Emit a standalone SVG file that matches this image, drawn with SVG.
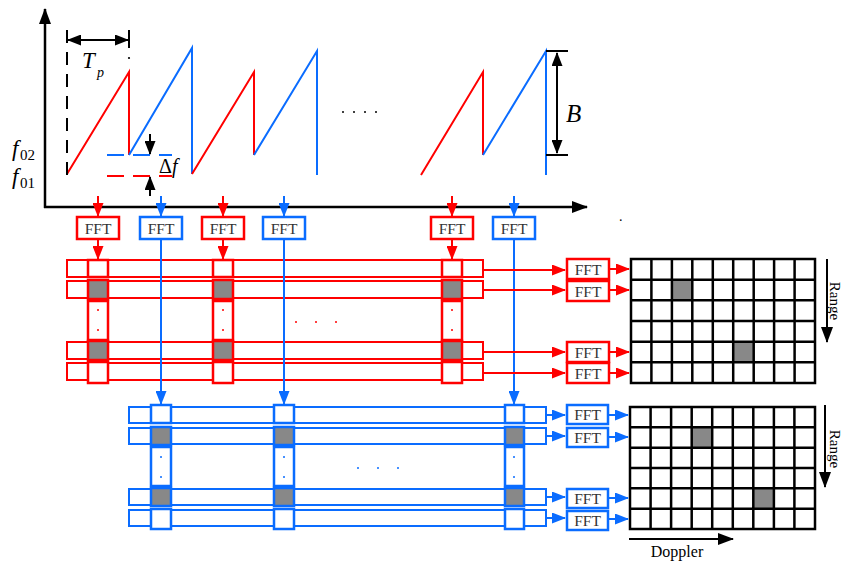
<svg xmlns="http://www.w3.org/2000/svg" width="843" height="562" viewBox="0 0 843 562">
<style>
.r{stroke:#ff0000;fill:none;stroke-width:2}
.b{stroke:#0a6cff;fill:none;stroke-width:2}
.k{stroke:#000;fill:none;stroke-width:2}
.rc{stroke:#ff0000;fill:#fff;stroke-width:2.5}
.bc{stroke:#0a6cff;fill:#fff;stroke-width:2.5}
.rg{stroke:#ff0000;fill:#888;stroke-width:2.5}
.bg{stroke:#0a6cff;fill:#888;stroke-width:2.5}
.fr{stroke:#ff0000;fill:#fff;stroke-width:2.5}
.fb{stroke:#0a6cff;fill:#fff;stroke-width:2.5}
.ft{font-family:"Liberation Serif",serif;font-size:15.5px;fill:#333;text-anchor:middle}
.it{font-family:"Liberation Serif",serif;font-style:italic;fill:#000}
.lb{font-family:"Liberation Serif",serif;fill:#000}
.dr{fill:#ff0000}
.db{fill:#0a6cff}
.grid{stroke:#000;stroke-width:2.5;fill:#fff}
</style>
<defs>
<marker id="ar" viewBox="0 0 14 11" refX="13" refY="5.5" markerWidth="14" markerHeight="11" markerUnits="userSpaceOnUse" orient="auto"><path d="M0,0 L14,5.5 L0,11 z" fill="#ff0000"/></marker>
<marker id="ab" viewBox="0 0 14 11" refX="13" refY="5.5" markerWidth="14" markerHeight="11" markerUnits="userSpaceOnUse" orient="auto"><path d="M0,0 L14,5.5 L0,11 z" fill="#0a6cff"/></marker>
<marker id="ak" viewBox="0 0 14 11" refX="13" refY="5.5" markerWidth="14" markerHeight="11" markerUnits="userSpaceOnUse" orient="auto-start-reverse"><path d="M0,0 L14,5.5 L0,11 z" fill="#000"/></marker>
<marker id="ax" viewBox="0 0 16 12" refX="15" refY="6" markerWidth="16" markerHeight="12" markerUnits="userSpaceOnUse" orient="auto"><path d="M0,0 L16,6 L0,12 z" fill="#000"/></marker>
</defs>

<g id="axes">
<line x1="45" y1="208" x2="45" y2="9" stroke="#000" stroke-width="2.5" marker-end="url(#ax)"/>
<line x1="44" y1="207" x2="587" y2="207" stroke="#000" stroke-width="2.5" marker-end="url(#ax)"/>
</g>

<g id="chirps">
<polyline class="r" points="67,174 129,72 129,155"/>
<polyline class="b" points="129,155 192,48 192,174"/>
<polyline class="r" points="192,174 254,72 254,155"/>
<polyline class="b" points="254,155 317,51 317,175"/>
<polyline class="r" points="421,175 483,72 483,155"/>
<polyline class="b" points="483,155 546,51 546,175"/>
<g fill="#000"><circle cx="343" cy="112" r="1"/><circle cx="354" cy="112" r="1"/><circle cx="365" cy="112" r="1"/><circle cx="376" cy="112" r="1"/></g>
</g>

<g id="tp">
<line x1="67" y1="30" x2="67" y2="175" stroke="#000" stroke-width="2" stroke-dasharray="13,9"/>
<line x1="129" y1="30" x2="129" y2="48" stroke="#000" stroke-width="2"/>
<circle cx="129" cy="58" r="1.1" fill="#000"/>
<line x1="68" y1="40" x2="128" y2="40" stroke="#000" stroke-width="2" marker-start="url(#ak)" marker-end="url(#ak)"/>
<text class="it" x="82" y="68" font-size="23">T</text>
<text class="it" x="97" y="77" font-size="14">p</text>
</g>

<g id="df">
<line x1="107" y1="155" x2="172" y2="155" class="b" stroke-dasharray="17,9"/>
<line x1="107" y1="176" x2="172" y2="176" class="r" stroke-dasharray="17,9"/>
<line x1="150" y1="134" x2="150" y2="154" stroke="#000" stroke-width="2" marker-end="url(#ak)"/>
<line x1="150" y1="196" x2="150" y2="177" stroke="#000" stroke-width="2" marker-end="url(#ak)"/>
<text class="lb" x="159" y="173" font-size="20">Δ<tspan font-style="italic">f</tspan></text>
</g>

<g id="flabels">
<text class="it" x="12" y="156" font-size="23">f</text>
<text class="lb" x="20" y="160" font-size="15">02</text>
<text class="it" x="12" y="184" font-size="23">f</text>
<text class="lb" x="20" y="188" font-size="15">01</text>
</g>

<g id="bw">
<line x1="546" y1="51" x2="568" y2="51" stroke="#000" stroke-width="2"/>
<line x1="546" y1="155" x2="568" y2="155" stroke="#000" stroke-width="2"/>
<line x1="557" y1="53" x2="557" y2="153" stroke="#000" stroke-width="2" marker-start="url(#ak)" marker-end="url(#ak)"/>
<text class="it" x="566" y="122" font-size="25">B</text>
</g>
<text class="lb" x="619" y="221" font-size="14">.</text>

<g id="fft-top">
<g id="fft-r1"><rect class="fr" x="77" y="217" width="42" height="22"/><text class="ft" x="98" y="233.5">FFT</text></g>
<g id="fft-b1"><rect class="fb" x="140" y="217" width="42" height="22"/><text class="ft" x="161" y="233.5">FFT</text></g>
<g id="fft-r2"><rect class="fr" x="202" y="217" width="42" height="22"/><text class="ft" x="223" y="233.5">FFT</text></g>
<g id="fft-b2"><rect class="fb" x="263" y="217" width="42" height="22"/><text class="ft" x="284" y="233.5">FFT</text></g>
<g id="fft-r3"><rect class="fr" x="431" y="217" width="42" height="22"/><text class="ft" x="452" y="233.5">FFT</text></g>
<g id="fft-b3"><rect class="fb" x="493" y="217" width="42" height="22"/><text class="ft" x="514" y="233.5">FFT</text></g>
</g>

<g id="red-matrix">
<rect class="r" x="67" y="260" width="416" height="17"/>
<rect class="r" x="67" y="281" width="416" height="17"/>
<rect class="r" x="67" y="342" width="416" height="17"/>
<rect class="r" x="67" y="363" width="416" height="17"/>
<g id="rcol1"><rect class="rc" x="88" y="260" width="20" height="17"/><rect class="rg" x="88" y="280" width="20" height="19"/><rect class="rc" x="88" y="301" width="20" height="39"/><rect class="rg" x="88" y="341" width="20" height="19"/><rect class="rc" x="88" y="362" width="20" height="21"/><circle class="dr" cx="98" cy="310" r="1"/><circle class="dr" cx="98" cy="330" r="1"/></g>
<g id="rcol2"><rect class="rc" x="213" y="260" width="20" height="17"/><rect class="rg" x="213" y="280" width="20" height="19"/><rect class="rc" x="213" y="301" width="20" height="39"/><rect class="rg" x="213" y="341" width="20" height="19"/><rect class="rc" x="213" y="362" width="20" height="21"/><circle class="dr" cx="223" cy="310" r="1"/><circle class="dr" cx="223" cy="330" r="1"/></g>
<g id="rcol3"><rect class="rc" x="442" y="260" width="20" height="17"/><rect class="rg" x="442" y="280" width="20" height="19"/><rect class="rc" x="442" y="301" width="20" height="39"/><rect class="rg" x="442" y="341" width="20" height="19"/><rect class="rc" x="442" y="362" width="20" height="21"/><circle class="dr" cx="452" cy="310" r="1"/><circle class="dr" cx="452" cy="330" r="1"/></g>
<circle class="dr" cx="296" cy="322" r="1"/><circle class="dr" cx="316" cy="322" r="1"/><circle class="dr" cx="336" cy="322" r="1"/>
</g>

<g id="blue-matrix">
<rect class="b" x="129" y="407" width="417" height="16"/>
<rect class="b" x="129" y="428" width="417" height="16"/>
<rect class="b" x="129" y="489" width="417" height="16"/>
<rect class="b" x="129" y="510" width="417" height="16"/>
<g id="bcol1"><rect class="bc" x="151" y="405" width="20" height="18"/><rect class="bg" x="151" y="427" width="20" height="18"/><rect class="bc" x="151" y="447" width="20" height="39"/><rect class="bg" x="151" y="488" width="20" height="18"/><rect class="bc" x="151" y="509" width="20" height="20"/><circle class="db" cx="161" cy="457" r="1"/><circle class="db" cx="161" cy="477" r="1"/></g>
<g id="bcol2"><rect class="bc" x="274" y="405" width="20" height="18"/><rect class="bg" x="274" y="427" width="20" height="18"/><rect class="bc" x="274" y="447" width="20" height="39"/><rect class="bg" x="274" y="488" width="20" height="18"/><rect class="bc" x="274" y="509" width="20" height="20"/><circle class="db" cx="284" cy="457" r="1"/><circle class="db" cx="284" cy="477" r="1"/></g>
<g id="bcol3"><rect class="bc" x="505" y="405" width="19" height="18"/><rect class="bg" x="505" y="427" width="19" height="18"/><rect class="bc" x="505" y="447" width="19" height="39"/><rect class="bg" x="505" y="488" width="19" height="18"/><rect class="bc" x="505" y="509" width="19" height="20"/><circle class="db" cx="514" cy="457" r="1"/><circle class="db" cx="514" cy="477" r="1"/></g>
<circle class="db" cx="358" cy="468" r="1"/><circle class="db" cx="378" cy="468" r="1"/><circle class="db" cx="398" cy="468" r="1"/>
</g>

<g id="fft-right">
<g id="fft-rr1"><rect class="fr" x="567" y="259" width="42" height="20"/><text class="ft" x="588" y="274.5">FFT</text></g>
<g id="fft-rr2"><rect class="fr" x="567" y="281" width="42" height="20"/><text class="ft" x="588" y="296.5">FFT</text></g>
<g id="fft-rr3"><rect class="fr" x="567" y="342" width="42" height="20"/><text class="ft" x="588" y="357.5">FFT</text></g>
<g id="fft-rr4"><rect class="fr" x="567" y="363" width="42" height="20"/><text class="ft" x="588" y="378.5">FFT</text></g>
<g id="fft-br1"><rect class="fb" x="567" y="405" width="41" height="19"/><text class="ft" x="587.5" y="420">FFT</text></g>
<g id="fft-br2"><rect class="fb" x="567" y="428" width="41" height="19"/><text class="ft" x="587.5" y="443">FFT</text></g>
<g id="fft-br3"><rect class="fb" x="567" y="489" width="41" height="19"/><text class="ft" x="587.5" y="504">FFT</text></g>
<g id="fft-br4"><rect class="fb" x="567" y="511" width="41" height="19"/><text class="ft" x="587.5" y="526">FFT</text></g>
</g>

<g id="grid-red">
<rect class="grid" x="631" y="259" width="184" height="124"/>
<rect x="671.9" y="279.7" width="20.4" height="20.6" fill="#888"/>
<rect x="733.2" y="341.7" width="20.5" height="20.6" fill="#888"/>
<path stroke="#000" stroke-width="2.5" d="M651.4,259V383M671.9,259V383M692.3,259V383M712.8,259V383M733.2,259V383M753.7,259V383M774.1,259V383M794.6,259V383M631,279.7H815M631,300.3H815M631,321H815M631,341.7H815M631,362.3H815"/>
</g>
<g id="grid-blue">
<rect class="grid" x="630" y="407" width="185" height="122"/>
<rect x="691.7" y="427.3" width="20.5" height="20.4" fill="#888"/>
<rect x="753.3" y="488.3" width="20.6" height="20.4" fill="#888"/>
<path stroke="#000" stroke-width="2.5" d="M650.6,407V529M671.1,407V529M691.7,407V529M712.2,407V529M732.8,407V529M753.3,407V529M773.9,407V529M794.4,407V529M630,427.3H815M630,447.7H815M630,468H815M630,488.3H815M630,508.7H815"/>
</g>

<g id="connectors">
<line class="r" x1="98" y1="196" x2="98" y2="216" marker-end="url(#ar)"/>
<line class="b" x1="161" y1="196" x2="161" y2="216" marker-end="url(#ab)"/>
<line class="r" x1="223" y1="196" x2="223" y2="216" marker-end="url(#ar)"/>
<line class="b" x1="284" y1="196" x2="284" y2="216" marker-end="url(#ab)"/>
<line class="r" x1="452" y1="196" x2="452" y2="216" marker-end="url(#ar)"/>
<line class="b" x1="514" y1="196" x2="514" y2="216" marker-end="url(#ab)"/>
<line class="r" x1="98" y1="240" x2="98" y2="259" marker-end="url(#ar)"/>
<line class="r" x1="223" y1="240" x2="223" y2="259" marker-end="url(#ar)"/>
<line class="r" x1="452" y1="240" x2="452" y2="259" marker-end="url(#ar)"/>
<line class="b" x1="161" y1="240" x2="161" y2="404" marker-end="url(#ab)"/>
<line class="b" x1="284" y1="240" x2="284" y2="404" marker-end="url(#ab)"/>
<line class="b" x1="514" y1="240" x2="514" y2="404" marker-end="url(#ab)"/>
<line class="r" x1="484" y1="270" x2="565" y2="270" marker-end="url(#ar)"/>
<line class="r" x1="484" y1="290" x2="565" y2="290" marker-end="url(#ar)"/>
<line class="r" x1="484" y1="352" x2="565" y2="352" marker-end="url(#ar)"/>
<line class="r" x1="484" y1="373" x2="565" y2="373" marker-end="url(#ar)"/>
<line class="r" x1="610" y1="269" x2="629" y2="269" marker-end="url(#ar)"/>
<line class="r" x1="610" y1="290" x2="629" y2="290" marker-end="url(#ar)"/>
<line class="r" x1="610" y1="352" x2="629" y2="352" marker-end="url(#ar)"/>
<line class="r" x1="610" y1="373" x2="629" y2="373" marker-end="url(#ar)"/>
<line class="b" x1="547" y1="415" x2="565" y2="415" marker-end="url(#ab)"/>
<line class="b" x1="547" y1="436" x2="565" y2="436" marker-end="url(#ab)"/>
<line class="b" x1="547" y1="497" x2="565" y2="497" marker-end="url(#ab)"/>
<line class="b" x1="547" y1="518" x2="565" y2="518" marker-end="url(#ab)"/>
<line class="b" x1="609" y1="415" x2="628" y2="415" marker-end="url(#ab)"/>
<line class="b" x1="609" y1="437" x2="628" y2="437" marker-end="url(#ab)"/>
<line class="b" x1="609" y1="498" x2="628" y2="498" marker-end="url(#ab)"/>
<line class="b" x1="609" y1="519" x2="628" y2="519" marker-end="url(#ab)"/>
<line x1="827" y1="259" x2="827" y2="342" stroke="#000" stroke-width="2" marker-end="url(#ax)"/>
<line x1="825" y1="405" x2="825" y2="487" stroke="#000" stroke-width="2" marker-end="url(#ax)"/>
<line x1="629" y1="539" x2="733" y2="539" stroke="#000" stroke-width="2" marker-end="url(#ax)"/>
</g>

<g id="axis-labels">
<text class="lb" font-size="15" text-anchor="middle" transform="translate(830,301) rotate(90)">Range</text>
<text class="lb" font-size="15" text-anchor="middle" transform="translate(830,449) rotate(90)">Range</text>
<text class="lb" font-size="16" text-anchor="middle" x="677" y="557">Doppler</text>
</g>
</svg>
